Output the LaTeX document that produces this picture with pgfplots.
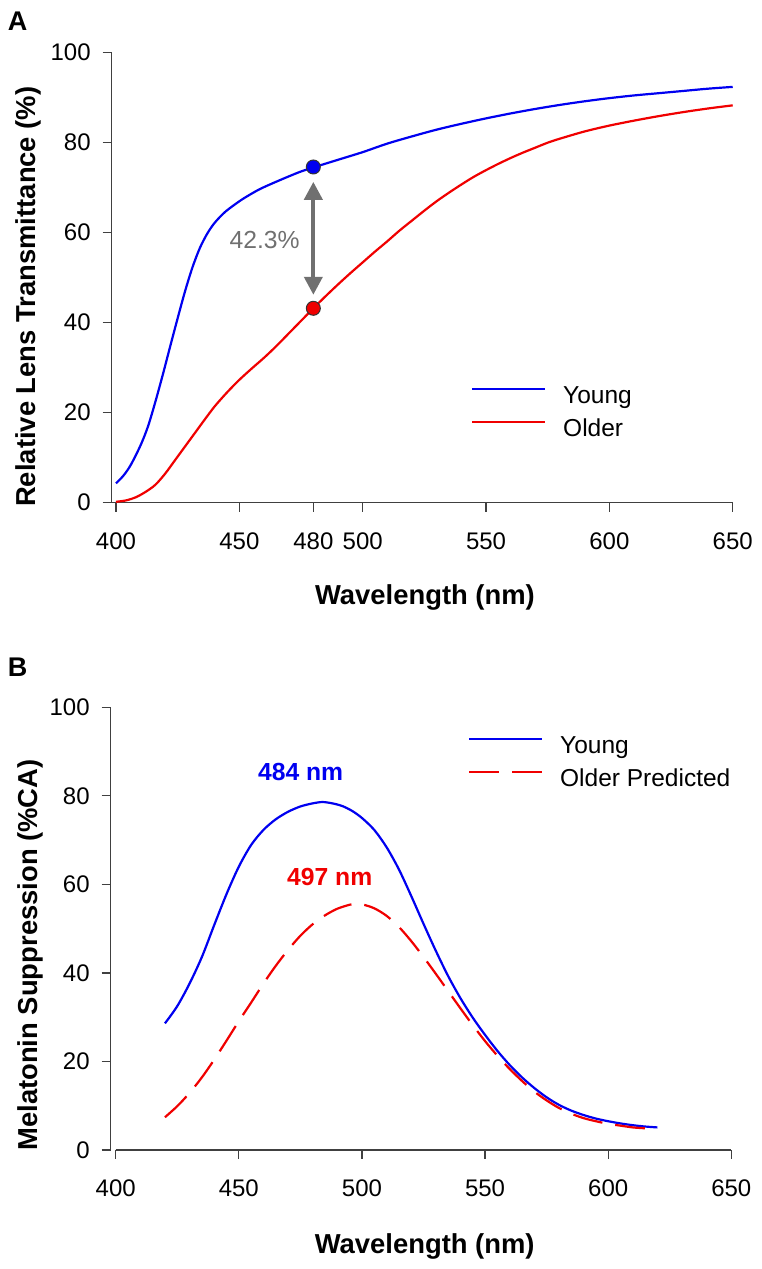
\documentclass[border=0pt]{standalone}
\usepackage{fontspec}
\setmainfont{Liberation Sans}
\usepackage{pgfplots}
\pgfplotsset{compat=1.18}
\usetikzlibrary{arrows.meta}
\definecolor{myblue}{RGB}{0,0,240}
\definecolor{myred}{RGB}{240,0,0}
\definecolor{axgray}{RGB}{64,64,64}
\definecolor{txtgray}{RGB}{112,112,112}

\tikzset{mylab/.style={font=\bfseries\fontsize{13.7}{16}\selectfont, anchor=center}}
\pgfplotsset{
  myaxis/.style={
    scale only axis,
    axis lines*=left,
    axis line style={axgray, line width=0.65pt},
    every tick/.style={axgray, line width=0.65pt},
    tick align=outside,
    major tick length=4.5pt,
    /pgf/number format/assume math mode=true,
    ticklabel style={font=\fontsize{12}{14}\selectfont},
    xticklabel style={yshift=-7pt},
    yticklabel style={xshift=-2.5pt},
    ymin=0, ymax=100, ytick={0,20,...,100},
    xmax=650,
    clip=false,
    legend style={draw=none, fill=none, inner sep=0pt, outer sep=0pt,
      font=\fontsize{12.25}{14}\selectfont, row sep=5.1pt, column sep=8.5pt,
      nodes={inner sep=0pt, text height=8.8pt, text depth=2.6pt}},
    legend cell align=left,
    legend image code/.code={\draw[#1] (0pt,4.4pt) -- (36.5pt,4.4pt);},
  },
}

\begin{document}
\begin{tikzpicture}
\useasboundingbox (0,0) rectangle (380.5pt,634.5pt);

% Panel A
\begin{axis}[myaxis,
  at={(55.85pt,383.15pt)}, anchor=south west,
  width=310.5pt, height=225pt,
  xmin=398.26,
  xtick={400,450,480,500,550,600,650},
  xlabel={Wavelength (nm)},
  ylabel={Relative Lens Transmittance (\%)},
  every axis x label/.style={at={(axis description cs:0.5045,-0.2107)}, mylab},
  every axis y label/.style={at={(axis description cs:-0.1348,0.4578)}, rotate=90, mylab},
  legend style={at={(axis description cs:0.5786,0.2587)}, anchor=north west},
]
\addplot[myblue, line width=1.1pt, smooth, tension=0.5] coordinates {
(400,4.3) (403,6.0) (406,8.4) (410,12.8) (413,17.0) (416,22.5) (419,28.5)
(422,34.8) (425,41.0) (428,47.0) (431,52.3) (434,56.6) (437,59.8) (440,62.2)
(444,64.5) (448,66.2) (452,67.7) (458,69.6) (464,71.1) (470,72.5) (475,73.6)
(480,74.5) (490,76.2) (500,77.9) (510,79.8) (520,81.4) (530,82.9) (540,84.2)
(550,85.4) (560,86.5) (570,87.5) (580,88.4) (590,89.2) (600,89.9) (610,90.5)
(620,91.0) (630,91.5) (640,92.0) (650,92.4)};
\addlegendentry{Young}
\addplot[myred, line width=1.1pt, smooth, tension=0.5] coordinates {
(400,0.2) (404,0.5) (408,1.2) (412,2.4) (416,4.0) (420,6.5) (424,9.5) (428,12.5)
(432,15.5) (436,18.5) (440,21.4) (445,24.5) (450,27.3) (455,29.8) (460,32.2)
(465,34.8) (470,37.6) (475,40.4) (480,43.2) (485,45.9) (490,48.5) (495,51.0)
(500,53.4) (505,55.8) (510,58.1) (515,60.5) (520,62.7) (525,64.9) (530,67.0)
(535,68.9) (540,70.7) (545,72.4) (550,73.9) (555,75.3) (560,76.6) (565,77.8)
(570,78.9) (575,80.0) (580,80.9) (590,82.5) (600,83.8) (610,84.9) (620,85.9)
(630,86.8) (640,87.6) (650,88.3)};
\addlegendentry{Older}
\draw[txtgray, line width=2pt, {Triangle[width=9pt,length=9pt]}-{Triangle[width=9pt,length=9pt]}]
  (axis cs:480,46.2) -- (axis cs:480,71.3);
\addplot[only marks, mark=*, mark size=3.5pt, mark options={fill=myblue, draw=black!80, line width=0.5pt}, forget plot] coordinates {(480,74.6)};
\addplot[only marks, mark=*, mark size=3.5pt, mark options={fill=myred, draw=black!80, line width=0.5pt}, forget plot] coordinates {(480,43.2)};
\node[txtgray, anchor=east, font=\fontsize{12.35}{14}\selectfont] at (axis cs:477.3,58.4) {42.3\%};
\end{axis}

% Panel B
\begin{axis}[myaxis,
  at={(55.35pt,59.5pt)}, anchor=south west,
  width=310.3pt, height=221.35pt,
  xmin=397.97,
  xtick={400,450,...,650},
  x axis line style={shorten <=2.5pt},
  xlabel={Wavelength (nm)},
  ylabel={Melatonin Suppression (\%CA)},
  every axis x label/.style={at={(axis description cs:0.506,-0.2184)}, mylab},
  every axis y label/.style={at={(axis description cs:-0.130,0.4405)}, rotate=90, mylab},
  legend style={at={(axis description cs:0.5757,0.9345)}, anchor=north west},
]
\addplot[myblue, line width=1.1pt, smooth, tension=0.5] coordinates {
(420,28.6) (425,32.5) (430,37.6) (435,43.6) (440,50.8) (445,57.8) (450,64.0)
(455,68.9) (460,72.3) (465,74.7) (470,76.4) (475,77.6) (480,78.3) (484,78.6)
(488,78.3) (492,77.7) (496,76.6) (500,75.0) (505,72.3) (510,68.4) (515,63.4)
(520,57.4) (525,51.1) (530,45.0) (535,39.3) (540,34.3) (545,29.9) (550,26.0)
(555,22.4) (560,19.2) (565,16.4) (570,14.0) (575,11.9) (580,10.2) (585,8.9)
(590,7.9) (595,7.1) (600,6.5) (605,6.0) (610,5.6) (615,5.3) (620,5.1)};
\addlegendentry{Young}
\addplot[myred, line width=1.1pt, smooth, tension=0.5, dash pattern=on 15pt off 6.5pt] coordinates {
(420,7.4) (425,9.9) (430,12.9) (435,16.4) (440,20.4) (445,24.7) (450,29.1)
(455,33.3) (460,37.6) (465,41.6) (470,45.2) (475,48.4) (480,51.0) (485,53.0)
(490,54.5) (495,55.4) (497,55.6) (500,55.5) (505,54.6) (510,52.9) (515,50.4)
(520,47.2) (525,43.6) (530,39.8) (535,35.9) (540,32.0) (545,28.2) (550,24.6)
(555,21.3) (560,18.3) (565,15.6) (570,13.2) (575,11.2) (580,9.5) (585,8.2)
(590,7.2) (595,6.5) (600,5.9) (605,5.5) (610,5.1) (615,4.9) (620,4.7)};
\addlegendentry{Older Predicted}
\node[myblue, font=\bfseries\fontsize{12.35}{14}\selectfont] at (axis cs:475.1,85.3) {484 nm};
\node[myred, font=\bfseries\fontsize{12.35}{14}\selectfont] at (axis cs:486.9,61.7) {497 nm};
\end{axis}

\node[font=\bfseries\fontsize{13.5}{16}\selectfont] at (8.75pt,624pt) {A};
\node[font=\bfseries\fontsize{13.5}{16}\selectfont] at (8.75pt,300.75pt) {B};
\end{tikzpicture}
\end{document}
